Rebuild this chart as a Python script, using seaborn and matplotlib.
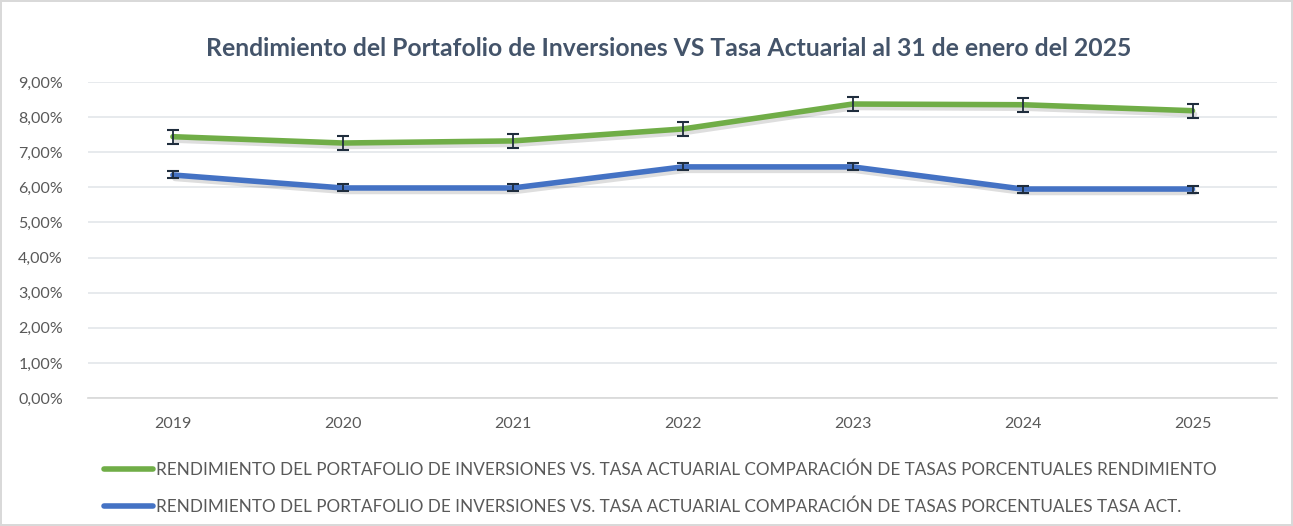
import numpy as np
import pandas as pd
import matplotlib.pyplot as plt
import matplotlib.patheffects as pe
from matplotlib.ticker import FuncFormatter, FixedLocator
from matplotlib.lines import Line2D
import seaborn as sns

# data
years = ["2019", "2020", "2021", "2022", "2023", "2024", "2025"]
rendimiento = [7.44, 7.26, 7.32, 7.66, 8.37, 8.35, 8.18]
tasa_act = [6.35, 5.98, 5.98, 6.58, 6.58, 5.95, 5.95]
err_rend = [0.2, 0.2, 0.2, 0.2, 0.2, 0.2, 0.2]
err_tasa = [0.1, 0.1, 0.1, 0.1, 0.1, 0.1, 0.1]
labels = [
    "RENDIMIENTO DEL PORTAFOLIO DE INVERSIONES VS. TASA ACTUARIAL COMPARACIÓN DE TASAS PORCENTUALES RENDIMIENTO",
    "RENDIMIENTO DEL PORTAFOLIO DE INVERSIONES VS. TASA ACTUARIAL COMPARACIÓN DE TASAS PORCENTUALES TASA ACT.",
]

sns.set_theme(style="white")
plt.rcParams['font.family'] = ['Lato', 'DejaVu Sans']

green = "#70AD47"
blue = "#4472C4"
txt = "#595959"

df = pd.DataFrame({
    "x": list(range(len(years))) * 2,
    "valor": rendimiento + tasa_act,
    "serie": [labels[0]] * len(years) + [labels[1]] * len(years),
})

fig = plt.figure(figsize=(12.93, 5.26), dpi=100)
fig.patch.set_edgecolor("#D9D9D9")
fig.patch.set_linewidth(1.5)
ax = fig.add_axes([0.068, 0.2433, 0.92, 0.601])

# soft drop shadow like the Excel original
shadow = [pe.SimpleLineShadow(offset=(1.5, -2.5), shadow_color="black", alpha=0.13), pe.Normal()]
sns.lineplot(data=df, x="x", y="valor", hue="serie", palette=[green, blue],
             linewidth=4, ax=ax, legend=False, path_effects=shadow)

xs = np.arange(len(years))
ax.errorbar(xs, rendimiento, yerr=err_rend, fmt="none", ecolor="#1F2D3D",
            elinewidth=1.3, capsize=4, capthick=1.5, zorder=5)
ax.errorbar(xs, tasa_act, yerr=err_tasa, fmt="none", ecolor="#1F2D3D",
            elinewidth=1.3, capsize=4, capthick=1.5, zorder=5)

ax.set_xlim(-0.5, len(years) - 0.5)
ax.set_ylim(0, 9)
ax.set_yticks(np.arange(0, 10, 1))
ax.yaxis.set_major_formatter(FuncFormatter(lambda v, p: f"{v:.2f}%".replace(".", ",")))
ax.set_xticks(xs)
ax.set_xticklabels(years)
ax.xaxis.set_minor_locator(FixedLocator(np.arange(-0.5, len(years), 1)))
ax.tick_params(axis="x", which="major", length=0, pad=14, labelsize=11.5, labelcolor=txt)
ax.tick_params(axis="x", which="minor", length=6, color="#D9D9D9", width=1)
ax.tick_params(axis="y", length=0, pad=18, labelsize=11.5, labelcolor=txt)
ax.set_xlabel("")
ax.set_ylabel("")
ax.grid(axis="y", color="#E3E6EA", linewidth=1.2)
for s in ["top", "right", "left"]:
    ax.spines[s].set_visible(False)
ax.spines["bottom"].set_color("#D9D9D9")

fig.text(0.517, 0.908, "Rendimiento del Portafolio de Inversiones VS Tasa Actuarial al 31 de enero del 2025",
         ha="center", va="center", fontsize=17.8, fontweight="bold", color="#44546A")

handles = [Line2D([0], [0], color=green, lw=4, solid_capstyle="round"),
           Line2D([0], [0], color=blue, lw=4, solid_capstyle="round")]
fig.legend(handles, labels, loc="upper left", bbox_to_anchor=(0.075, 0.135),
           frameon=False, fontsize=12.3, handlelength=2.9, handletextpad=0.15,
           labelspacing=1.2, labelcolor=txt, borderaxespad=0)

fig.savefig("out.png", dpi=100)
